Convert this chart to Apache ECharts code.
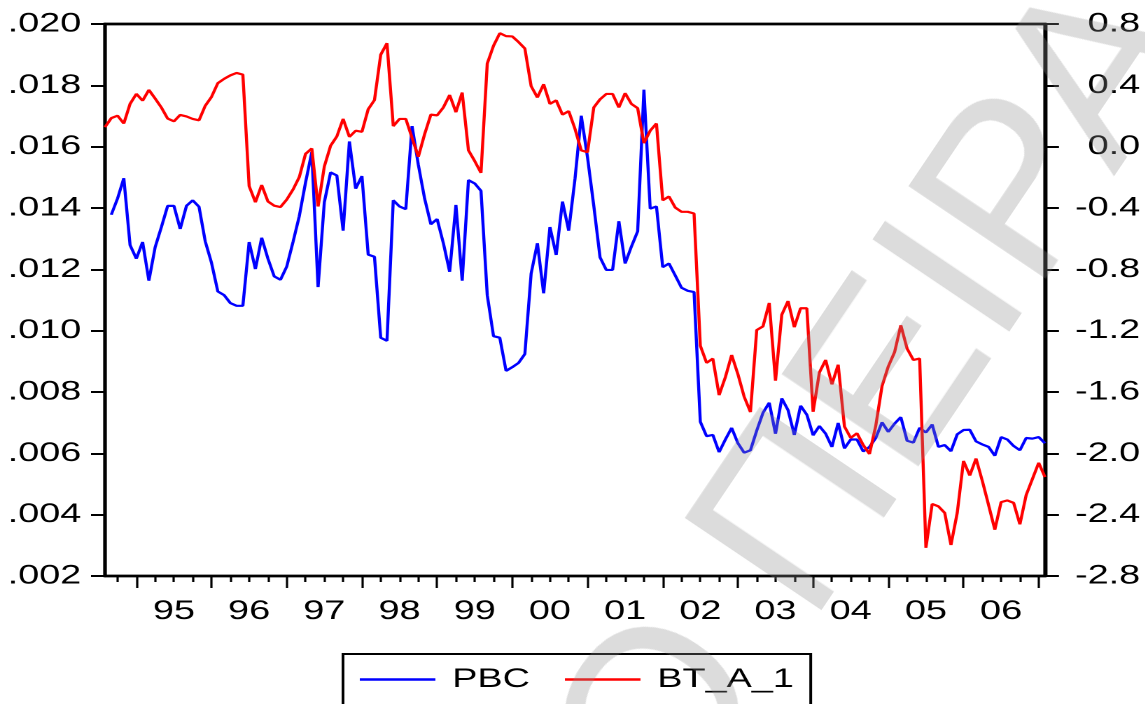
<!DOCTYPE html>
<html>
<head>
<meta charset="utf-8">
<title>PBC and BT_A_1</title>
<script src="https://cdn.jsdelivr.net/npm/echarts@6/dist/echarts.min.js"></script>
<style>
  html, body { margin: 0; padding: 0; background: #fff; overflow: hidden; }
  #stage { position: relative; width: 1145px; height: 704px; overflow: hidden; background: #fff; }
  /* chart is laid out on a narrower canvas and widened, giving the broad type of the original output */
  #chart { position: absolute; left: 0; top: 0; width: 818px; height: 704px; transform: scaleX(1.4); transform-origin: 0 0; }
  #wm { position: absolute; left: 0; top: 0; width: 1145px; height: 704px; overflow: hidden; pointer-events: none; }
  #wmAnchor { position: absolute; left: 600px; top: 790px; width: 0; height: 0; transform: rotate(-56deg); }
  #wmAnchor span { position: absolute; top: -0.5em; line-height: 1; white-space: nowrap;
    font-family: "Liberation Sans", Arial, sans-serif; font-size: 240px; color: rgba(140,140,140,0.3); }
  #wmAnchor .before { right: 0; }
  #wmAnchor .after { left: 0; }
</style>
</head>
<body>
<div id="stage">
  <div id="chart"></div>
  <div id="wm"><div id="wmAnchor"><span class="before">ΠΑΝΕΠΙΣΤΗΜΙ</span><span class="after">Ο ΠΕΙΡΑΙΩΣ</span></div></div>
</div>
<script>
// Monthly sample: 1994M08 .. 2007M02
const startYear = 1994;
const startMonth = 8;

// PBC (left axis); first month not available
const pbc = [
  null, 0.01378, 0.01431, 0.01497, 0.01279, 0.01235, 0.01289, 0.01163, 0.01272, 0.01338,
  0.01407, 0.01407, 0.01332, 0.01407, 0.01425, 0.01404, 0.01291, 0.01221, 0.01128, 0.01116,
  0.01090, 0.01081, 0.01081, 0.01289, 0.01201, 0.01303, 0.01235, 0.01177, 0.01166, 0.01209,
  0.01289, 0.01373, 0.01483, 0.01582, 0.01142, 0.01419, 0.01516, 0.01506, 0.01326, 0.01617,
  0.01463, 0.01504, 0.01248, 0.01241, 0.00977, 0.00967, 0.01425, 0.01405, 0.01396, 0.01667,
  0.01541, 0.01431, 0.01347, 0.01364, 0.01285, 0.01192, 0.01410, 0.01163, 0.01491, 0.01480,
  0.01456, 0.01116, 0.00982, 0.00977, 0.00869, 0.00881, 0.00895, 0.00924, 0.01186, 0.01285,
  0.01122, 0.01338, 0.01247, 0.01421, 0.01326, 0.01495, 0.01701, 0.01565, 0.01407, 0.01239,
  0.01198, 0.01198, 0.01357, 0.01219, 0.01274, 0.01324, 0.01786, 0.01398, 0.01405, 0.01207,
  0.01219, 0.01180, 0.01140, 0.01130, 0.01126, 0.00703, 0.00656, 0.00660, 0.00604, 0.00645,
  0.00683, 0.00633, 0.00602, 0.00610, 0.00674, 0.00732, 0.00765, 0.00664, 0.00779, 0.00741,
  0.00660, 0.00755, 0.00726, 0.00659, 0.00689, 0.00664, 0.00621, 0.00699, 0.00616, 0.00645,
  0.00645, 0.00606, 0.00621, 0.00650, 0.00701, 0.00670, 0.00697, 0.00718, 0.00641, 0.00635,
  0.00683, 0.00668, 0.00694, 0.00621, 0.00627, 0.00607, 0.00662, 0.00676, 0.00677, 0.00639,
  0.00629, 0.00621, 0.00592, 0.00653, 0.00645, 0.00624, 0.00610, 0.00650, 0.00648, 0.00653,
  0.00633
];

// BT_A_1 (right axis)
const btA1 = [
  0.127, 0.186, 0.202, 0.151, 0.279, 0.344, 0.300, 0.370, 0.314, 0.255,
  0.183, 0.165, 0.207, 0.197, 0.181, 0.172, 0.267, 0.325, 0.414, 0.442,
  0.465, 0.481, 0.470, -0.257, -0.362, -0.250, -0.357, -0.385, -0.394, -0.345,
  -0.280, -0.199, -0.047, -0.012, -0.390, -0.129, 0.006, 0.067, 0.181, 0.064,
  0.104, 0.097, 0.244, 0.304, 0.600, 0.675, 0.134, 0.181, 0.181, 0.057,
  -0.066, 0.081, 0.209, 0.204, 0.256, 0.337, 0.225, 0.353, -0.024, -0.094,
  -0.171, 0.542, 0.658, 0.740, 0.721, 0.719, 0.682, 0.640, 0.395, 0.321,
  0.407, 0.279, 0.302, 0.209, 0.232, 0.116, -0.024, -0.036, 0.256, 0.309,
  0.344, 0.344, 0.256, 0.349, 0.279, 0.251, 0.023, 0.104, 0.151, -0.350,
  -0.325, -0.397, -0.425, -0.425, -0.436, -1.298, -1.410, -1.382, -1.620, -1.503,
  -1.359, -1.484, -1.631, -1.731, -1.196, -1.172, -1.019, -1.526, -1.096, -1.007,
  -1.177, -1.054, -1.054, -1.729, -1.473, -1.391, -1.550, -1.422, -1.825, -1.899,
  -1.869, -1.946, -2.004, -1.820, -1.561, -1.433, -1.340, -1.165, -1.317, -1.391,
  -1.382, -2.616, -2.330, -2.346, -2.388, -2.598, -2.388, -2.050, -2.144, -2.034,
  -2.179, -2.337, -2.498, -2.318, -2.307, -2.323, -2.463, -2.272, -2.167, -2.062,
  -2.155
];

const seriesNames = ['PBC', 'BT_A_1'];
const leftTicks = { min: 0.002, max: 0.020, step: 0.002 };
const rightTicks = { min: -2.8, max: 0.8, step: 0.4 };

// month labels like 1995M01
const months = btA1.map((_, k) => {
  const t = startMonth - 1 + k;
  const y = startYear + Math.floor(t / 12);
  const m = (t % 12) + 1;
  return y + 'M' + (m < 10 ? '0' + m : m);
});
const monthOf = v => parseInt(v.slice(5), 10);

const FONT = '"Liberation Sans", Arial, Helvetica, sans-serif';
const black = '#000';

const chart = echarts.init(document.getElementById('chart'), null, { renderer: 'canvas', devicePixelRatio: 2 });

const frameLine = { show: true, onZero: false, lineStyle: { color: black, width: 2.4 } };

chart.setOption({
  animation: false,
  backgroundColor: '#fff',
  textStyle: { fontFamily: FONT },
  grid: {
    left: 75, right: 71.6, top: 24, bottom: 128,
    show: true, borderColor: black, borderWidth: 2.4, backgroundColor: '#fff'
  },
  legend: {
    data: seriesNames,
    left: 245, top: 654,
    orient: 'horizontal',
    icon: 'rect',
    itemWidth: 54, itemHeight: 2.5, itemGap: 25,
    padding: [12, 12, 12, 12],
    borderColor: black, borderWidth: 2,
    textStyle: { fontFamily: FONT, fontSize: 27, color: black, padding: [0, 0, 0, 7] }
  },
  xAxis: [
    {
      type: 'category', data: months, boundaryGap: false, position: 'bottom',
      axisLine: frameLine,
      axisTick: { show: true, length: 12, interval: (i, v) => monthOf(v) === 1, lineStyle: { color: black, width: 1.6 } },
      axisLabel: {
        show: true, interval: (i, v) => monthOf(v) === 7,
        formatter: v => v.slice(2, 4),
        fontFamily: FONT, fontSize: 27, color: black, margin: 22
      },
      splitLine: { show: false }
    },
    {
      type: 'category', data: months, boundaryGap: false, position: 'bottom',
      axisLine: { show: false, onZero: false },
      axisTick: { show: true, length: 6, interval: (i, v) => [4, 7, 10].indexOf(monthOf(v)) >= 0, lineStyle: { color: black, width: 1.6 } },
      axisLabel: { show: false },
      splitLine: { show: false }
    },
    {
      // upper edge of the frame
      type: 'category', data: months, boundaryGap: false, position: 'top',
      axisLine: frameLine,
      axisTick: { show: false },
      axisLabel: { show: false },
      splitLine: { show: false }
    }
  ],
  yAxis: [
    {
      type: 'value', position: 'left',
      min: leftTicks.min, max: leftTicks.max, interval: leftTicks.step,
      axisLine: frameLine,
      axisTick: { show: true, length: 10, lineStyle: { color: black, width: 2 } },
      axisLabel: {
        fontFamily: FONT, fontSize: 27, color: black, margin: 17,
        formatter: v => v.toFixed(3).replace(/^0/, '')
      },
      splitLine: { show: false }
    },
    {
      type: 'value', position: 'right',
      min: rightTicks.min, max: rightTicks.max, interval: rightTicks.step,
      axisLine: frameLine,
      axisTick: { show: true, length: 10, lineStyle: { color: black, width: 2 } },
      axisLabel: {
        fontFamily: FONT, fontSize: 27, color: black, margin: 68, align: 'right',
        formatter: v => (Math.abs(v) < 1e-9 ? 0 : v).toFixed(1)
      },
      splitLine: { show: false }
    }
  ],
  series: [
    {
      name: 'PBC', type: 'line', xAxisIndex: 0, yAxisIndex: 0, data: pbc,
      symbol: 'none', connectNulls: false,
      lineStyle: { color: '#0000ff', width: 2.2 }, itemStyle: { color: '#0000ff' }
    },
    {
      name: 'BT_A_1', type: 'line', xAxisIndex: 0, yAxisIndex: 1, data: btA1,
      symbol: 'none',
      lineStyle: { color: '#ff0000', width: 2.2 }, itemStyle: { color: '#ff0000' }
    }
  ]
});
</script>
</body>
</html>
